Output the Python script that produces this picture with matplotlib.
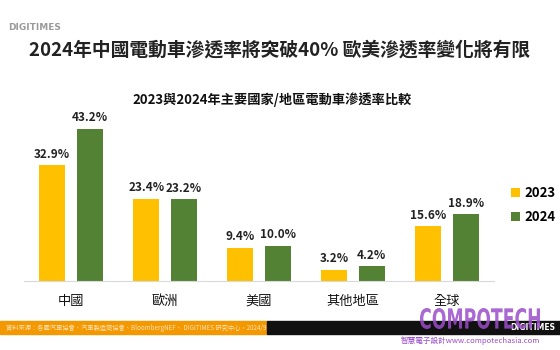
import matplotlib.pyplot as plt
import numpy as np
from matplotlib.patches import Rectangle, PathPatch
from matplotlib.textpath import TextPath
from matplotlib.font_manager import FontProperties
from matplotlib.transforms import Affine2D

plt.rcParams['font.family'] = ['Noto Sans CJK TC', 'DejaVu Sans']

# penetration rate of electric vehicles, by region
regions = ["中國", "歐洲", "美國", "其他地區", "全球"]
rate_2023 = [32.9, 23.4, 9.4, 3.2, 15.6]
rate_2024 = [43.2, 23.2, 10.0, 4.2, 18.9]
series_names = ["2023", "2024"]

YELLOW = "#FFC000"
GREEN = "#548235"

W, H = 560, 350
fig = plt.figure(figsize=(W / 100, H / 100), dpi=100)

# ---------------- header ----------------
fig.text(8 / W, 1 - 27 / H, "DIGITIMES", fontsize=6.5, color="#9a9a9a",
         fontweight="bold", va="center", ha="left", family="DejaVu Sans")
fig.text(0.5, 1 - 50 / H, "2024年中國電動車滲透率將突破40% 歐美滲透率變化將有限",
         fontsize=13.5, fontweight="bold", color="#222222", ha="center", va="center")
fig.text(272 / W, 1 - 100 / H, "2023與2024年主要國家/地區電動車滲透率比較",
         fontsize=9.5, fontweight="bold", color="#111111", ha="center", va="center")

# ---------------- bars ----------------
ax = fig.add_axes([24 / W, 69 / H, 470 / W, 176 / H])
x = np.arange(len(regions))
width = 0.28
offset = 0.2
b1 = ax.bar(x - offset, rate_2023, width, color=YELLOW, label=series_names[0])
b2 = ax.bar(x + offset, rate_2024, width, color=GREEN, label=series_names[1])

for bars, vals in [(b1, rate_2023), (b2, rate_2024)]:
    for rect, v in zip(bars, vals):
        ax.text(rect.get_x() + rect.get_width() / 2, v + 1.3, f"{v:.1f}%",
                ha="center", va="bottom", fontsize=8.5, fontweight="bold",
                color="#222222")

ax.set_xlim(-0.5, len(regions) - 0.5)
ax.set_ylim(0, 50)
ax.set_yticks([])
ax.set_xticks(x)
ax.set_xticklabels(regions, fontsize=9.5, color="#111111")
ax.tick_params(axis="x", length=0, pad=10)
for side in ["top", "right", "left"]:
    ax.spines[side].set_visible(False)
ax.spines["bottom"].set_color("#d9d9d9")

leg = fig.legend(handles=[b1, b2], loc="center left",
                 bbox_to_anchor=(511 / W, 1 - 205 / H), frameon=False,
                 borderpad=0, borderaxespad=0,
                 handlelength=0.7, handleheight=0.7, handletextpad=0.35,
                 labelspacing=0.75, prop={"weight": "bold", "size": 9.5})

# ---------------- footer ----------------
fig.patches.append(Rectangle((0, 1 - 334 / H), 267 / W, 13 / H,
                             transform=fig.transFigure, color="#F39800", zorder=1))
fig.patches.append(Rectangle((267 / W, 1 - 334 / H), 1 - 267 / W, 13 / H,
                             transform=fig.transFigure, color="#111111", zorder=1))
fig.text(6 / W, 1 - 327.5 / H,
         "資料來源：各國汽車協會、汽車製造商協會、BloombergNEF、 DIGITIMES 研究中心，2024/9",
         fontsize=4.5, color="#fde3b8", va="center", ha="left", zorder=3)
fig.text(510 / W, 1 - 327.5 / H, "DIGITIMES", fontsize=5.5, color="white",
         fontweight="bold", va="center", ha="left", family="DejaVu Sans", zorder=3)

# condensed watermark: squeeze a text path into a pixel box
def squeezed_text(s, x0, x1, y_top, y_bot, color):
    tp = TextPath((0, 0), s, size=20,
                  prop=FontProperties(family="DejaVu Sans", weight="bold"))
    ext = tp.get_extents()
    sx = (x1 - x0) / ext.width
    sy = (y_bot - y_top) / ext.height
    tr = (Affine2D().translate(-ext.x0, -ext.y0).scale(sx, sy)
          .translate(x0, H - y_bot).scale(1 / W, 1 / H) + fig.transFigure)
    patch = PathPatch(tp, transform=tr, color=color, lw=0, alpha=0.85, zorder=4)
    fig.patches.append(patch)

squeezed_text("COMPOTECH", 420, 540, 308, 329, "#9b4dca")
fig.text(470 / W, 1 - 341 / H, "智慧電子設計www.compotechasia.com", fontsize=5.5,
         color="#9b4dca", va="center", ha="center", zorder=4)

fig.savefig("out.png", dpi=100)
